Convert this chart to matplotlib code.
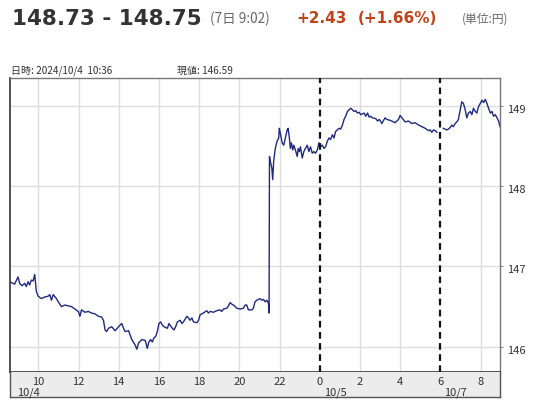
import matplotlib
matplotlib.use("Agg")
import matplotlib.pyplot as plt
import matplotlib.transforms as mtransforms
import numpy as np

plt.rcParams['font.family'] = ['Noto Sans CJK JP', 'DejaVu Sans']

# ---- data (x = hours since 10/4 00:00, weekend gap removed: 10/7 06:00 == 30) ----
fri_hours = [8.59, 8.65, 8.82, 8.99, 9.07, 9.19, 9.32, 9.40, 9.49, 9.57, 9.65, 9.74, 9.82, 9.90, 9.99,
             10.15, 10.32, 10.49, 10.57, 10.65, 10.74, 10.90, 10.99, 11.15, 11.32, 11.49, 11.65,
             11.82, 11.99, 12.07, 12.15, 12.32, 12.49, 12.65, 12.82, 12.99, 13.15, 13.24, 13.32,
             13.40, 13.49, 13.65, 13.82, 13.99, 14.15, 14.24, 14.32, 14.49, 14.65, 14.82, 14.90,
             14.99, 15.15, 15.32, 15.42, 15.50, 15.59, 15.67, 15.75, 15.84, 15.92, 16.00, 16.08,
             16.17, 16.25, 16.42, 16.50, 16.58, 16.67, 16.75, 16.83, 16.92, 17.06, 17.14, 17.22,
             17.39, 17.47, 17.55, 17.64, 17.72, 17.89, 17.97, 18.05, 18.21, 18.38, 18.46, 18.55,
             18.71, 18.88, 19.04, 19.13, 19.21, 19.38, 19.46, 19.54, 19.63, 19.71, 19.88, 20.04,
             20.20, 20.29, 20.37, 20.45, 20.62, 20.70, 20.78, 20.87, 21.03, 21.12, 21.20, 21.28,
             21.37, 21.45, 21.48, 21.50, 21.55, 21.62, 21.66, 21.71, 21.79, 21.88, 21.96, 21.99,
             22.04, 22.13, 22.21, 22.29, 22.38, 22.43, 22.49, 22.54, 22.59, 22.66, 22.71, 22.79,
             22.88, 22.93, 22.99, 23.04, 23.13, 23.21, 23.29, 23.38, 23.46, 23.54, 23.63, 23.71,
             23.79, 23.88, 23.96, 24.04, 24.13, 24.21, 24.29, 24.38, 24.46, 24.54, 24.63, 24.71,
             24.79, 24.88, 24.96, 25.04, 25.13, 25.21, 25.29, 25.38, 25.46, 25.54, 25.63, 25.71,
             25.79, 25.88, 25.96, 26.04, 26.13, 26.21, 26.29, 26.38, 26.46, 26.54, 26.63, 26.79,
             26.88, 26.96, 27.00, 27.09, 27.25, 27.34, 27.50, 27.67, 27.75, 27.92, 28.00, 28.09,
             28.25, 28.42, 28.58, 28.75, 28.92, 29.08, 29.25, 29.42, 29.50, 29.58, 29.66, 29.75,
             29.83]
fri_prices = [146.81, 146.80, 146.78, 146.87, 146.79, 146.76, 146.79, 146.75, 146.81, 146.77, 146.83,
              146.82, 146.90, 146.69, 146.63, 146.60, 146.62, 146.63, 146.65, 146.58, 146.65, 146.60,
              146.56, 146.50, 146.52, 146.51, 146.50, 146.47, 146.44, 146.38, 146.46, 146.43, 146.44,
              146.42, 146.41, 146.38, 146.37, 146.33, 146.21, 146.19, 146.23, 146.25, 146.20, 146.25,
              146.29, 146.23, 146.19, 146.20, 146.09, 146.02, 145.97, 146.05, 146.09, 146.08, 145.98,
              146.06, 146.09, 146.06, 146.11, 146.13, 146.19, 146.29, 146.31, 146.27, 146.25, 146.23,
              146.29, 146.26, 146.23, 146.21, 146.25, 146.31, 146.33, 146.29, 146.31, 146.38, 146.36,
              146.33, 146.36, 146.31, 146.30, 146.33, 146.40, 146.42, 146.45, 146.42, 146.44, 146.43,
              146.45, 146.46, 146.44, 146.47, 146.48, 146.51, 146.55, 146.53, 146.52, 146.48, 146.47,
              146.48, 146.52, 146.52, 146.46, 146.46, 146.48, 146.56, 146.58, 146.60, 146.58, 146.59,
              146.56, 146.58, 146.54, 146.42, 148.37, 148.30, 148.22, 148.08, 148.31, 148.47, 148.56,
              148.60, 148.72, 148.66, 148.54, 148.51, 148.60, 148.70, 148.72, 148.60, 148.47, 148.54,
              148.45, 148.51, 148.45, 148.37, 148.47, 148.43, 148.49, 148.35, 148.43, 148.47, 148.51,
              148.43, 148.49, 148.41, 148.43, 148.41, 148.45, 148.54, 148.49, 148.51, 148.47, 148.49,
              148.56, 148.60, 148.58, 148.64, 148.60, 148.68, 148.70, 148.72, 148.71, 148.76, 148.83,
              148.87, 148.93, 148.95, 148.97, 148.95, 148.93, 148.94, 148.91, 148.92, 148.89, 148.90,
              148.91, 148.87, 148.91, 148.86, 148.87, 148.85, 148.84, 148.81, 148.83, 148.82, 148.78,
              148.85, 148.83, 148.82, 148.80, 148.79, 148.83, 148.88, 148.85, 148.80, 148.81, 148.78,
              148.79, 148.76, 148.74, 148.72, 148.69, 148.70, 148.67, 148.70, 148.69, 148.67]

mon_hours = [30.15, 30.32, 30.40, 30.49, 30.57, 30.65, 30.74, 30.82, 30.90, 30.99, 31.07, 31.15,
             31.24, 31.32, 31.40, 31.49, 31.57, 31.65, 31.74, 31.82, 31.90, 31.99, 32.07, 32.15,
             32.24, 32.32, 32.40, 32.49, 32.57, 32.65, 32.74, 32.82, 32.90, 32.97]
mon_prices = [148.72, 148.70, 148.71, 148.73, 148.76, 148.74, 148.78, 148.80, 148.83, 148.95, 149.05,
              149.03, 148.95, 148.85, 148.91, 148.93, 148.89, 148.97, 148.93, 148.91, 148.99, 149.03,
              149.07, 149.04, 149.08, 149.03, 148.97, 148.91, 148.93, 148.87, 148.89, 148.85, 148.81,
              148.74]

tick_pos = [10, 12, 14, 16, 18, 20, 22, 24, 26, 28, 30, 32]
tick_labels = ['10', '12', '14', '16', '18', '20', '22', '0', '2', '4', '6', '8']
day_pos = [24, 30]
day_labels = ['10/4', '10/5', '10/7']
y_ticks = [146, 147, 148, 149]

title_main = '148.73 - 148.75'
title_time = '(7日 9:02)'
change_abs = '+2.43'
change_pct = '(+1.66%)'
unit_text = '(単位:円)'
info_date = '日時: 2024/10/4  10:36'
info_val = '現値: 146.59'

# ---- figure ----
W, H = 545, 400
fig = plt.figure(figsize=(W / 100, H / 100), dpi=100)
fig.patch.set_facecolor('white')

def fx(x):
    return x / W

def fy(y):
    return 1 - y / H

ax_l, ax_r, ax_t, ax_b = 10, 500, 77.7, 371.7
band_b = 396.7
ax = fig.add_axes([fx(ax_l), fy(ax_b), (ax_r - ax_l) / W, (ax_b - ax_t) / H])
band = fig.add_axes([fx(ax_l), fy(band_b), (ax_r - ax_l) / W, (band_b - ax_b) / H], sharex=ax)

line_c = '#1f2a7e'
ax.plot(fri_hours, fri_prices, color=line_c, lw=1.0, solid_joinstyle='round')
ax.plot(mon_hours, mon_prices, color=line_c, lw=1.0, solid_joinstyle='round')

ax.set_xlim(8.59, 32.97)
ax.set_ylim(145.69, 149.35)

grid_c = '#dedede'
for t in tick_pos:
    if t in day_pos:
        ax.axvline(t, color='#111111', lw=1.6, ls=(0, (3, 2)), zorder=3)
    else:
        ax.axvline(t, color=grid_c, lw=1.0, zorder=0)
for v in y_ticks:
    ax.axhline(v, color=grid_c, lw=1.0, zorder=0)

ax.set_xticks([])
ax.yaxis.tick_right()
ax.set_yticks(y_ticks)
ax.set_yticklabels([str(v) for v in y_ticks], fontsize=8, color='#333333')
ax.tick_params(axis='y', length=2, width=0.8, color='#888888', pad=3)
off = mtransforms.ScaledTranslation(0, -3 / 100, fig.dpi_scale_trans)
for lab in ax.get_yticklabels():
    lab.set_transform(lab.get_transform() + off)

for s in ['top', 'right']:
    ax.spines[s].set_color('#777777')
    ax.spines[s].set_linewidth(1.0)
for s in ['left', 'bottom']:
    ax.spines[s].set_color('#333333')
    ax.spines[s].set_linewidth(1.2)

band.set_facecolor('#ececec')
band.set_xticks([])
band.set_yticks([])
band.set_ylim(0, 1)
for s in band.spines.values():
    s.set_color('#555555')
    s.set_linewidth(1.0)
band.spines['top'].set_visible(False)

for p, lab in zip(tick_pos, tick_labels):
    band.text(p, 0.60, lab, ha='center', va='center', fontsize=8, color='#333333')
band.text(0.014, 0.16, day_labels[0], transform=band.transAxes, ha='left', va='center',
          fontsize=8, color='#333333')
for p, lab in zip(day_pos, day_labels[1:]):
    band.text(p + 0.2, 0.16, lab, ha='left', va='center', fontsize=8, color='#333333')

# ---- header texts ----
fig.text(fx(12), fy(25), title_main, fontsize=15.5, fontweight='bold', color='#333333',
         family=['DejaVu Sans'], va='baseline', ha='left')
fig.text(fx(210), fy(23.5), title_time, fontsize=9.8, color='#666666', va='baseline', ha='left')
red = '#c2421b'
fig.text(fx(296), fy(23.3), change_abs, fontsize=11, fontweight='bold', color=red,
         family=['DejaVu Sans'], va='baseline', ha='left')
fig.text(fx(397.5), fy(23.3), change_pct, fontsize=11, fontweight='bold', color=red,
         family=['DejaVu Sans'], va='baseline', ha='center')
fig.text(fx(462), fy(23), unit_text, fontsize=8.5, color='#666666', va='baseline', ha='left')
fig.text(fx(11), fy(73.5), info_date, fontsize=7.2, color='#333333', va='baseline', ha='left')
fig.text(fx(177), fy(73.5), info_val, fontsize=7.2, color='#333333', va='baseline', ha='left')

fig.savefig('out.png', dpi=100, facecolor='white')
